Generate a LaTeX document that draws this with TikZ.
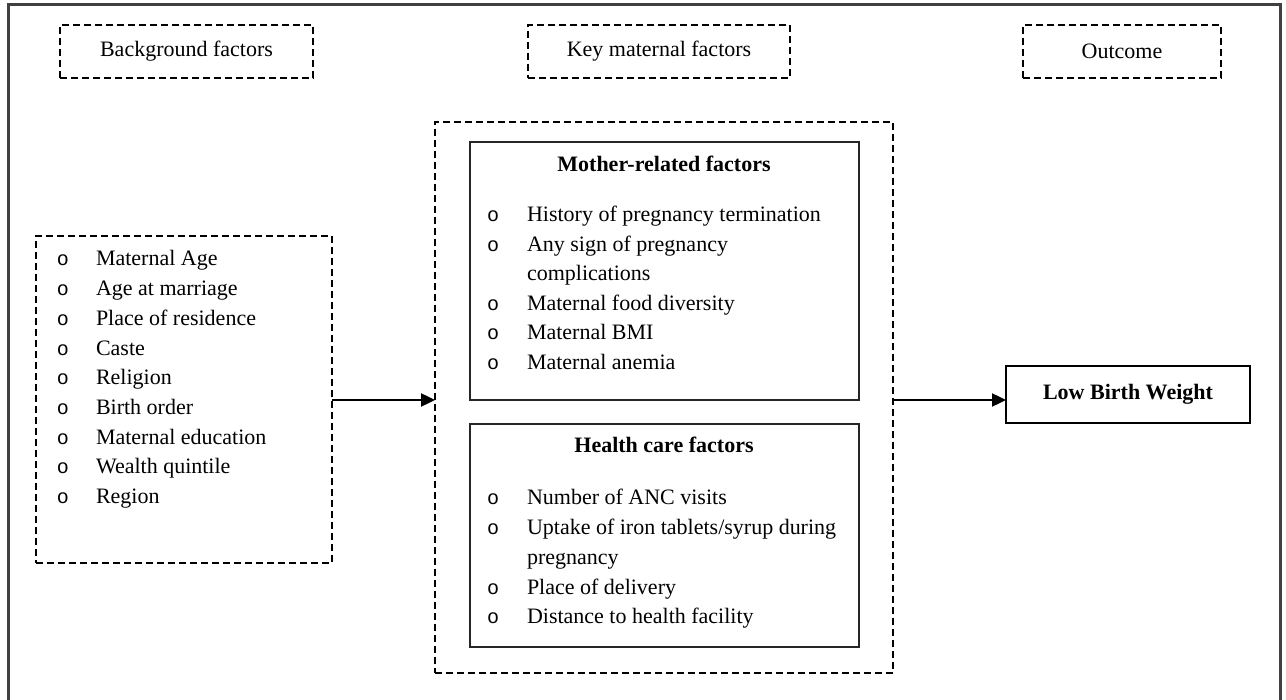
\documentclass[tikz,border=0pt]{standalone}
\usepackage{fontspec}
\setmainfont{Liberation Serif}
\newfontfamily\bulfont{Liberation Mono}
\usetikzlibrary{arrows.meta}
\begin{document}
\begin{tikzpicture}[x=1pt,y=-1pt,
  every node/.style={inner sep=0pt,outer sep=0pt,font=\fontsize{22}{26}\selectfont},
  dbox/.style={draw=black,line width=2.6pt,dash pattern=on 7pt off 4pt,anchor=north west},
  sbox/.style={draw=black!85,line width=1.5pt,anchor=north west},
  itm/.style={anchor=base west},
  bul/.style={anchor=base,font=\bulfont\fontsize{20}{24}\selectfont},
  arr/.style={line width=2.4pt,-{Triangle[length=14pt,width=13pt]}},
  ttl/.style={anchor=base,font=\bfseries\fontsize{22}{26}\selectfont}]
\useasboundingbox (0,0) rectangle (1286,700);
\fill[white] (0,0) rectangle (1286,700);
\draw[line width=3pt,black!75] (8,720) -- (8,5) -- (1280,5) -- (1280,720);
% header boxes
\node[dbox,minimum width=253,minimum height=53] (hbg) at (60,25) {Background factors};
\node[dbox,minimum width=262,minimum height=53] (hkey) at (528,25) {Key maternal factors};
\node[dbox,minimum width=198,minimum height=53] (hout) at (1023,25) {Outcome};
% background factor box
\node[dbox,minimum width=296,minimum height=327] (bg) at (36,236) {};
\foreach \t [count=\i] in {Maternal Age,Age at marriage,Place of residence,Caste,Religion,Birth order,Maternal education,Wealth quintile,Region}{
  \node[bul] (bgo\i) at (63,{266+(\i-1)*29.7}) {o};
  \node[itm] (bg\i) at (96,{266+(\i-1)*29.7}) {\t};
}
% key maternal factors
\node[dbox,minimum width=458,minimum height=551] (key) at (435,122) {};
\node[sbox,minimum width=389,minimum height=258] (mom) at (470,142) {};
\node[ttl] (momt) at (664,172) {Mother-related factors};
\node[bul] (m1o) at (493,222) {o};
\node[itm] (m1) at (527,222) {History of pregnancy termination};
\node[bul] (m2o) at (493,252) {o};
\node[itm] (m2) at (527,252) {Any sign of pregnancy};
\node[itm] (m2b) at (527,281) {complications};
\node[bul] (m3o) at (493,311) {o};
\node[itm] (m3) at (527,311) {Maternal food diversity};
\node[bul] (m4o) at (493,340) {o};
\node[itm] (m4) at (527,340) {Maternal BMI};
\node[bul] (m5o) at (493,370) {o};
\node[itm] (m5) at (527,370) {Maternal anemia};
\node[sbox,minimum width=389,minimum height=223] (hc) at (470,424) {};
\node[ttl] (hct) at (664,453) {Health care factors};
\node[bul] (h1o) at (493,505) {o};
\node[itm] (h1) at (527,505) {Number of ANC visits};
\node[bul] (h2o) at (493,535) {o};
\node[itm] (h2) at (527,535) {Uptake of iron tablets/syrup during};
\node[itm] (h2b) at (527,564) {pregnancy};
\node[bul] (h3o) at (493,594) {o};
\node[itm] (h3) at (527,594) {Place of delivery};
\node[bul] (h4o) at (493,623) {o};
\node[itm] (h4) at (527,623) {Distance to health facility};
% outcome
\node[sbox,draw=black,minimum width=244,minimum height=57] (lbw) at (1006,366) {};
\node[ttl,anchor=center] (lbwt) at (lbw.center) {Low Birth Weight};
% arrows
\coordinate (a1s) at (332,400);
\draw[arr] (bg.east |- a1s) -- (key.west |- a1s);
\draw[arr] (key.east |- a1s) -- (lbw.west |- a1s);
\end{tikzpicture}
\end{document}
